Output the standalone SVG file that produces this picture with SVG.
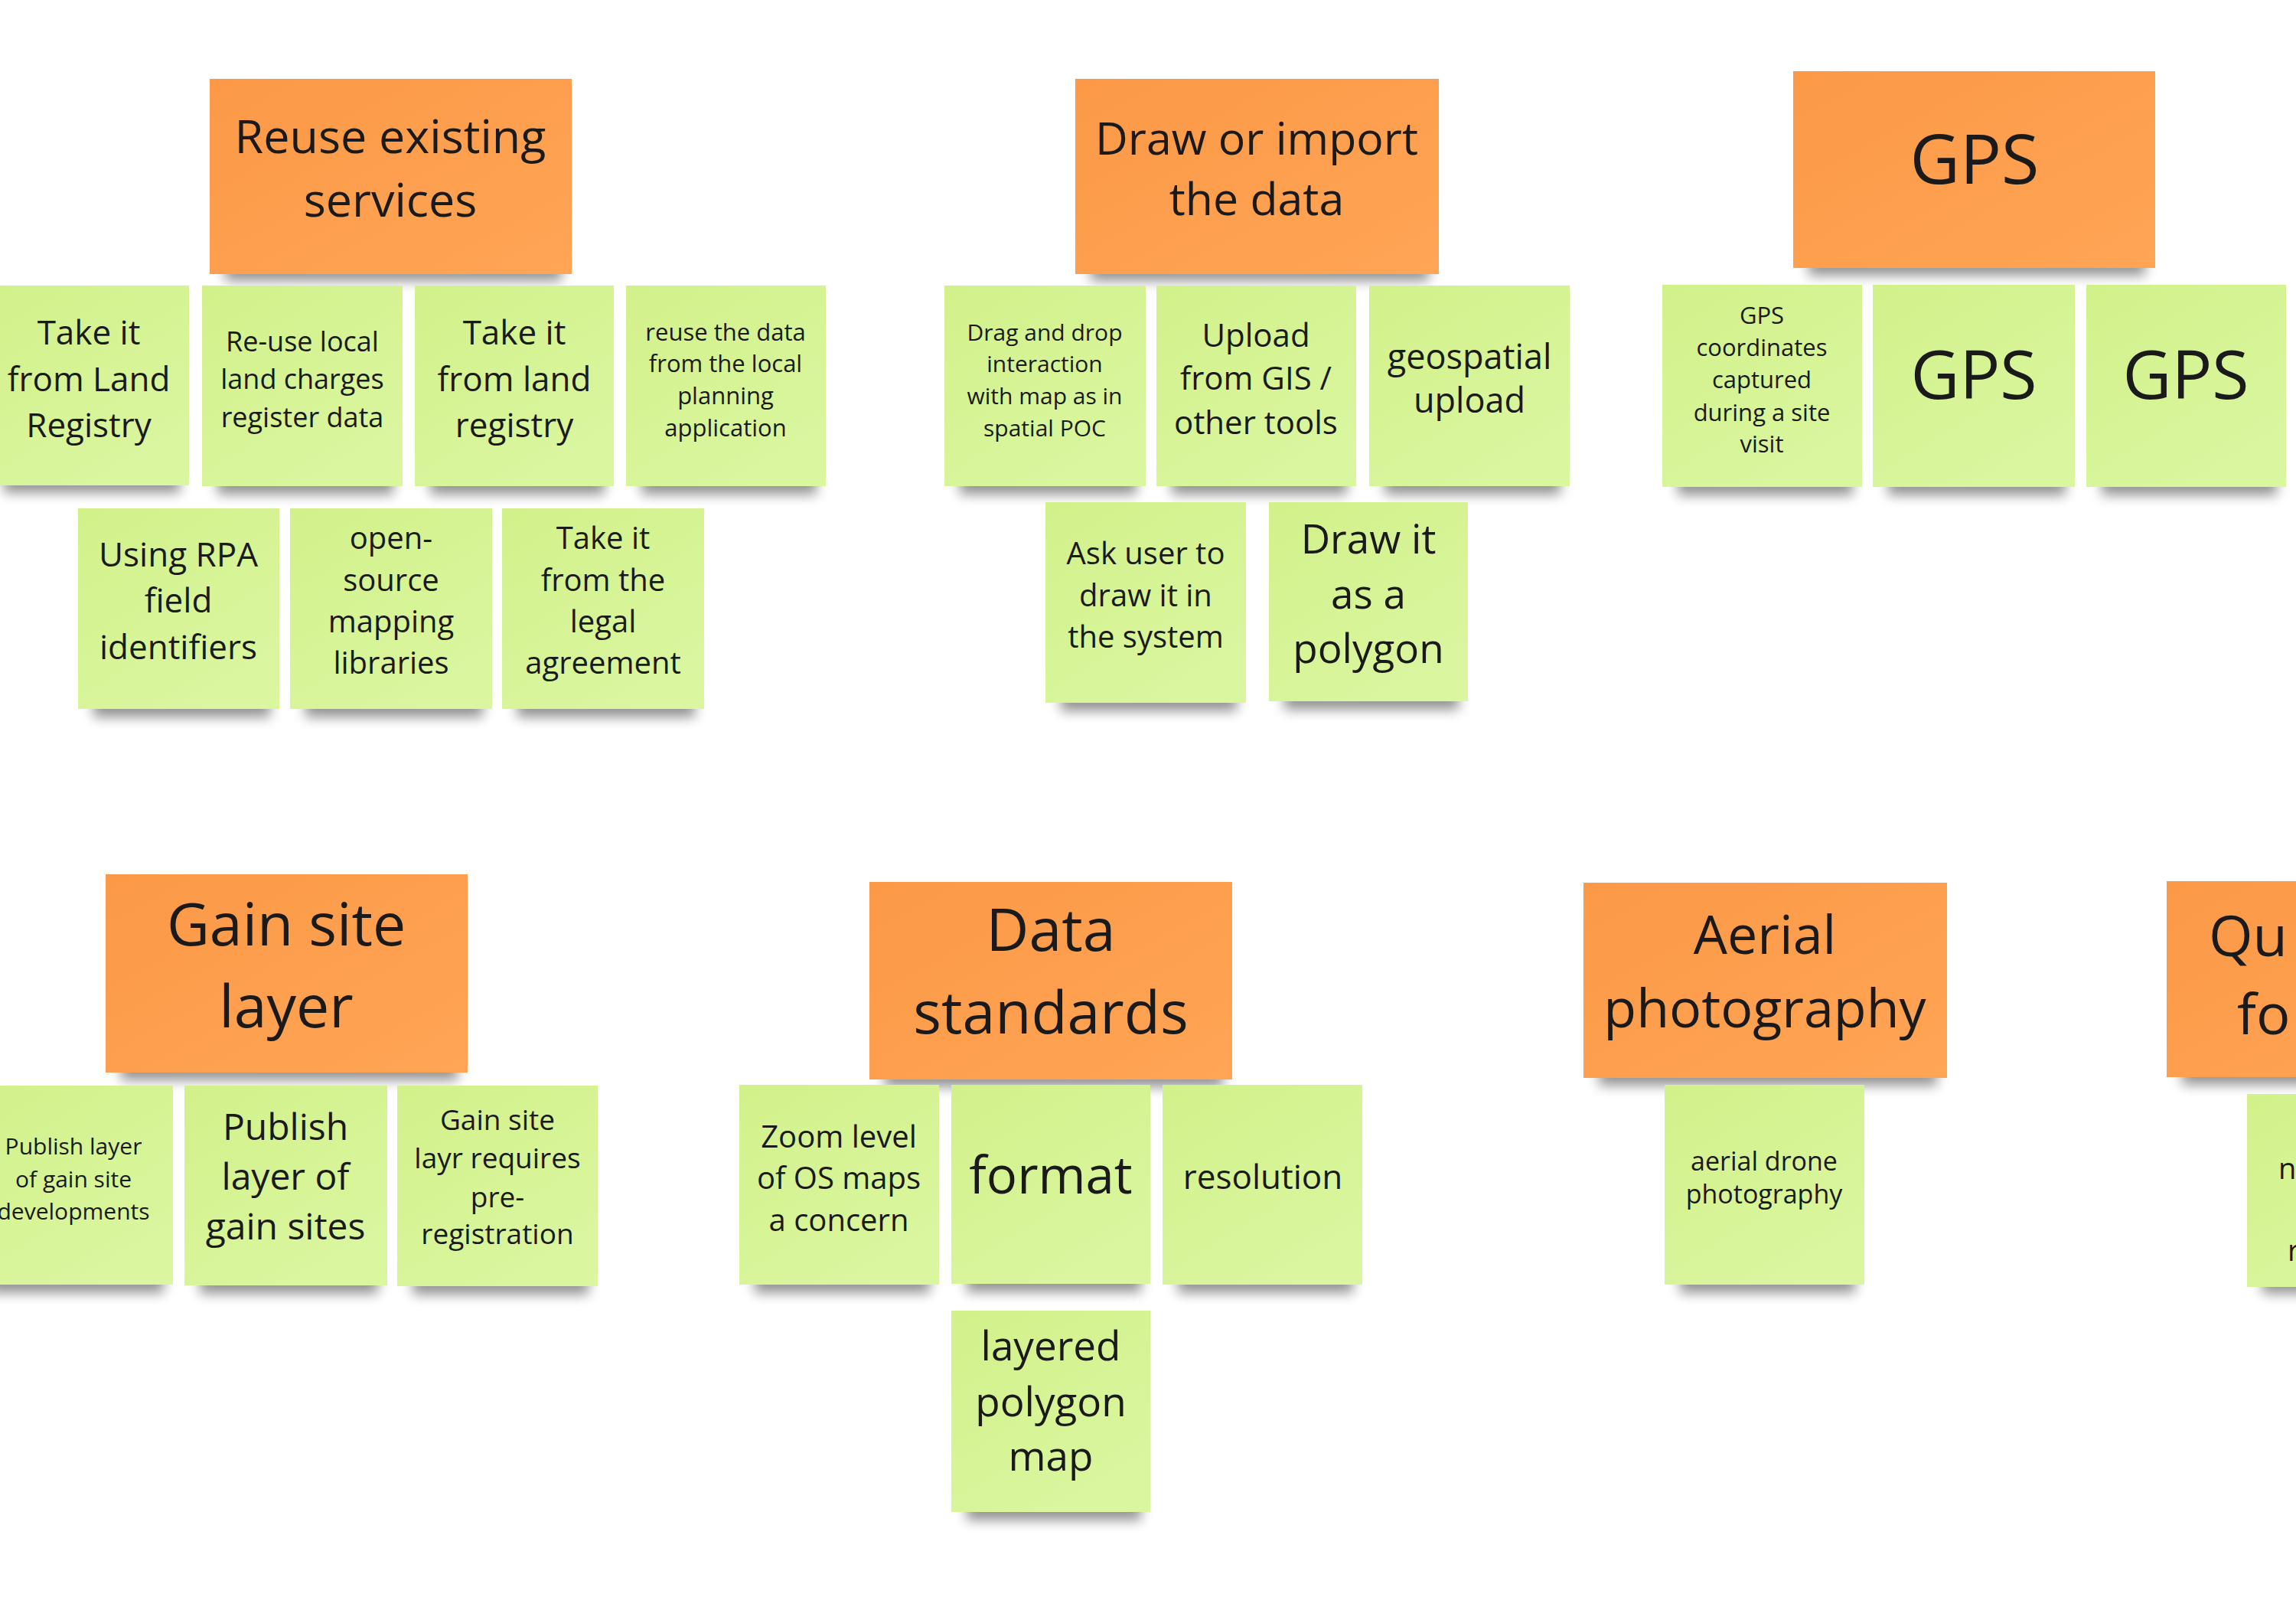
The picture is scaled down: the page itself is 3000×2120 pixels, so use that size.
<svg xmlns="http://www.w3.org/2000/svg" width="3000" height="2120" viewBox="0 0 3000 2120">
<defs>
<linearGradient id="og" x1="0" y1="0" x2="1" y2="1">
<stop offset="0" stop-color="#fb9947"/>
<stop offset="1" stop-color="#ffa555"/>
</linearGradient>
<linearGradient id="gg" x1="0" y1="0" x2="0.6" y2="1">
<stop offset="0" stop-color="#d2f18a"/>
<stop offset="1" stop-color="#daf69f"/>
</linearGradient>
<filter id="blur" x="-20%" y="-50%" width="140%" height="200%">
<feGaussianBlur stdDeviation="8"/>
</filter>
<style>
.o{fill:url(#og)}
.g{fill:url(#gg)}
.sh{fill:#000;opacity:.42;filter:url(#blur)}
text{font-family:"Open Sans","Noto Sans","DejaVu Sans",sans-serif;fill:#1a1a1a;text-anchor:middle}
.st{text-anchor:start}
</style>
</defs>
<rect width="3000" height="2120" fill="#ffffff"/>
<g id="connectors"/>

<!-- Group 1: Reuse existing services -->
<g id="reuse-existing-services">
<rect class="sh" x="294" y="333" width="440" height="34"/>
<rect class="o" x="274" y="103" width="473" height="255"/>
<text font-size="61" x="510" y="200">Reuse existing</text>
<text font-size="61" x="510" y="283">services</text>
</g>
<g id="take-it-land-registry">
<rect class="sh" x="5" y="610" width="230" height="34"/>
<rect class="g" x="-15" y="373" width="262" height="261"/>
<text font-size="44" x="116" y="450">Take it</text>
<text font-size="44" x="116" y="511">from Land</text>
<text font-size="44" x="116" y="571">Registry</text>
</g>
<g id="reuse-local-land-charges">
<rect class="sh" x="284" y="612" width="230" height="34"/>
<rect class="g" x="264" y="373" width="262" height="262"/>
<text font-size="36" x="395" y="459">Re-use local</text>
<text font-size="36" x="395" y="508">land charges</text>
<text font-size="36" x="395" y="558">register data</text>
</g>
<g id="take-it-land-registry-2">
<rect class="sh" x="562" y="612" width="228" height="34"/>
<rect class="g" x="542" y="373" width="260" height="262"/>
<text font-size="44" x="672" y="450">Take it</text>
<text font-size="44" x="672" y="511">from land</text>
<text font-size="44" x="672" y="571">registry</text>
</g>
<g id="reuse-planning-data">
<rect class="sh" x="838" y="612" width="229" height="34"/>
<rect class="g" x="818" y="373" width="261" height="262"/>
<text font-size="31" x="948" y="445">reuse the data</text>
<text font-size="31" x="948" y="486">from the local</text>
<text font-size="31" x="948" y="528">planning</text>
<text font-size="31" x="948" y="570">application</text>
</g>
<g id="using-rpa">
<rect class="sh" x="122" y="903" width="231" height="34"/>
<rect class="g" x="102" y="664" width="263" height="262"/>
<text font-size="44" x="233" y="740">Using RPA</text>
<text font-size="44" x="233" y="800">field</text>
<text font-size="44" x="233" y="861">identifiers</text>
</g>
<g id="open-source-mapping">
<rect class="sh" x="399" y="903" width="232" height="34"/>
<rect class="g" x="379" y="664" width="264" height="262"/>
<text font-size="40" x="511" y="717">open-</text>
<text font-size="40" x="511" y="772">source</text>
<text font-size="40" x="511" y="826">mapping</text>
<text font-size="40" x="511" y="880">libraries</text>
</g>
<g id="take-it-legal-agreement">
<rect class="sh" x="676" y="903" width="232" height="34"/>
<rect class="g" x="656" y="664" width="264" height="262"/>
<text font-size="40" x="788" y="717">Take it</text>
<text font-size="40" x="788" y="772">from the</text>
<text font-size="40" x="788" y="826">legal</text>
<text font-size="40" x="788" y="880">agreement</text>
</g>

<!-- Group 2: Draw or import the data -->
<g id="draw-or-import">
<rect class="sh" x="1425" y="333" width="442" height="34"/>
<rect class="o" x="1405" y="103" width="475" height="255"/>
<text font-size="59" x="1642" y="202">Draw or import</text>
<text font-size="59" x="1642" y="281">the data</text>
</g>
<g id="drag-and-drop">
<rect class="sh" x="1254" y="612" width="231" height="34"/>
<rect class="g" x="1234" y="373" width="263" height="262"/>
<text font-size="30" x="1365" y="445">Drag and drop</text>
<text font-size="30" x="1365" y="486">interaction</text>
<text font-size="30" x="1365" y="528">with map as in</text>
<text font-size="30" x="1365" y="570">spatial POC</text>
</g>
<g id="upload-from-gis">
<rect class="sh" x="1531" y="612" width="229" height="34"/>
<rect class="g" x="1511" y="373" width="261" height="262"/>
<text font-size="42" x="1641" y="453">Upload</text>
<text font-size="42" x="1641" y="509">from GIS /</text>
<text font-size="42" x="1641" y="567">other tools</text>
</g>
<g id="geospatial-upload">
<rect class="sh" x="1809" y="612" width="230" height="34"/>
<rect class="g" x="1789" y="373" width="262" height="262"/>
<text font-size="45" x="1920" y="482">geospatial</text>
<text font-size="45" x="1920" y="539">upload</text>
</g>
<g id="ask-user-draw">
<rect class="sh" x="1386" y="895" width="230" height="34"/>
<rect class="g" x="1366" y="656" width="262" height="262"/>
<text font-size="40" x="1497" y="737">Ask user to</text>
<text font-size="40" x="1497" y="792">draw it in</text>
<text font-size="40" x="1497" y="846">the system</text>
</g>
<g id="draw-as-polygon">
<rect class="sh" x="1678" y="893" width="228" height="34"/>
<rect class="g" x="1658" y="656" width="260" height="260"/>
<text font-size="53" x="1788" y="723">Draw it</text>
<text font-size="53" x="1788" y="795">as a</text>
<text font-size="53" x="1788" y="866">polygon</text>
</g>

<!-- Group 3: GPS -->
<g id="gps-header">
<rect class="sh" x="2363" y="326" width="440" height="34"/>
<rect class="o" x="2343" y="93" width="473" height="257"/>
<text font-size="90" x="2580" y="240">GPS</text>
</g>
<g id="gps-coordinates">
<rect class="sh" x="2192" y="613" width="229" height="34"/>
<rect class="g" x="2172" y="372" width="261" height="264"/>
<text font-size="31" x="2302" y="423">GPS</text>
<text font-size="31" x="2302" y="465">coordinates</text>
<text font-size="31" x="2302" y="507">captured</text>
<text font-size="31" x="2302" y="550">during a site</text>
<text font-size="31" x="2302" y="591">visit</text>
</g>
<g id="gps-1">
<rect class="sh" x="2467" y="613" width="232" height="34"/>
<rect class="g" x="2447" y="372" width="264" height="264"/>
<text font-size="88" x="2579" y="521">GPS</text>
</g>
<g id="gps-2">
<rect class="sh" x="2746" y="613" width="229" height="34"/>
<rect class="g" x="2726" y="372" width="261" height="264"/>
<text font-size="88" x="2856" y="521">GPS</text>
</g>

<!-- Group 4: Gain site layer -->
<g id="gain-site-layer">
<rect class="sh" x="158" y="1377" width="440" height="34"/>
<rect class="o" x="138" y="1142" width="473" height="259"/>
<text font-size="77" x="374" y="1235">Gain site</text>
<text font-size="77" x="374" y="1342">layer</text>
</g>
<g id="publish-layer-developments">
<rect class="sh" x="-15" y="1655" width="229" height="34"/>
<rect class="g" x="-35" y="1418" width="261" height="260"/>
<text font-size="30" x="96" y="1508">Publish layer</text>
<text font-size="30" x="96" y="1551">of gain site</text>
<text font-size="30" x="96" y="1593">developments</text>
</g>
<g id="publish-layer-gain-sites">
<rect class="sh" x="261" y="1656" width="233" height="34"/>
<rect class="g" x="241" y="1418" width="265" height="261"/>
<text font-size="48" x="373" y="1489">Publish</text>
<text font-size="48" x="373" y="1554">layer of</text>
<text font-size="48" x="373" y="1619">gain sites</text>
</g>
<g id="gain-site-pre-registration">
<rect class="sh" x="539" y="1657" width="230" height="34"/>
<rect class="g" x="519" y="1418" width="262" height="262"/>
<text font-size="37" x="650" y="1476">Gain site</text>
<text font-size="37" x="650" y="1526">layr requires</text>
<text font-size="37" x="650" y="1577">pre-</text>
<text font-size="37" x="650" y="1625">registration</text>
</g>

<!-- Group 5: Data standards -->
<g id="data-standards">
<rect class="sh" x="1156" y="1386" width="442" height="34"/>
<rect class="o" x="1136" y="1152" width="474" height="258"/>
<text font-size="77" x="1373" y="1242">Data</text>
<text font-size="77" x="1373" y="1350">standards</text>
</g>
<g id="zoom-level">
<rect class="sh" x="986" y="1655" width="229" height="34"/>
<rect class="g" x="966" y="1417" width="261" height="261"/>
<text font-size="40" x="1096" y="1499">Zoom level</text>
<text font-size="40" x="1096" y="1553">of OS maps</text>
<text font-size="40" x="1096" y="1608">a concern</text>
</g>
<g id="format">
<rect class="sh" x="1263" y="1654" width="228" height="34"/>
<rect class="g" x="1243" y="1417" width="260" height="260"/>
<text font-size="67" x="1373" y="1559">format</text>
</g>
<g id="resolution">
<rect class="sh" x="1539" y="1655" width="229" height="34"/>
<rect class="g" x="1519" y="1417" width="261" height="261"/>
<text font-size="44" x="1650" y="1553">resolution</text>
</g>
<g id="layered-polygon-map">
<rect class="sh" x="1263" y="1952" width="228" height="34"/>
<rect class="g" x="1243" y="1712" width="260" height="263"/>
<text font-size="53" x="1373" y="1777">layered</text>
<text font-size="53" x="1373" y="1850">polygon</text>
<text font-size="53" x="1373" y="1921">map</text>
</g>

<!-- Group 6: Aerial photography -->
<g id="aerial-photography">
<rect class="sh" x="2089" y="1384" width="442" height="34"/>
<rect class="o" x="2069" y="1153" width="475" height="255"/>
<text font-size="70" x="2306" y="1246">Aerial</text>
<text font-size="70" x="2306" y="1342">photography</text>
</g>
<g id="aerial-drone">
<rect class="sh" x="2195" y="1655" width="229" height="34"/>
<rect class="g" x="2175" y="1417" width="261" height="261"/>
<text font-size="34" x="2305" y="1529">aerial drone</text>
<text font-size="34" x="2305" y="1572">photography</text>
</g>

<!-- Group 7: partially visible -->
<g id="partial-header">
<rect class="sh" x="2851" y="1383" width="440" height="34"/>
<rect class="o" x="2831" y="1151" width="475" height="256"/>
<text class="st" font-size="74" x="2886" y="1249">Qu</text>
<text class="st" font-size="74" x="2923" y="1351">fo</text>
</g>
<g id="partial-note">
<rect class="sh" x="2956" y="1656" width="230" height="34"/>
<rect class="g" x="2936" y="1429" width="262" height="252"/>
<text class="st" font-size="38" x="2977" y="1540">n</text>
<text class="st" font-size="38" x="2989" y="1647">r</text>
</g>
</svg>
